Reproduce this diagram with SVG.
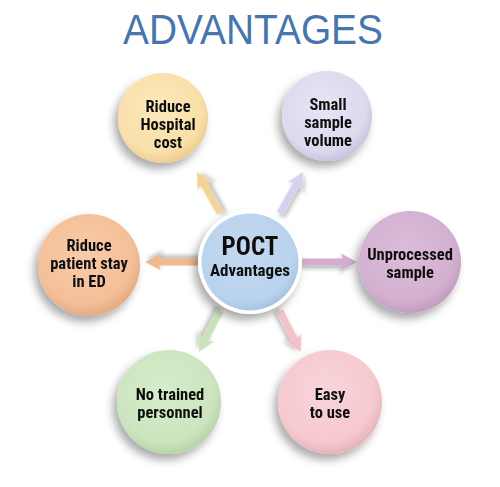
<svg xmlns="http://www.w3.org/2000/svg" width="500" height="487" viewBox="0 0 500 487">
<defs>
<filter id="sh" x="-40%" y="-40%" width="180%" height="180%">
<feDropShadow dx="-4" dy="6" stdDeviation="4.5" flood-color="#000" flood-opacity="0.33"/>
</filter>
<filter id="ash" x="-40%" y="-40%" width="180%" height="180%">
<feDropShadow dx="-2" dy="3" stdDeviation="2" flood-color="#000" flood-opacity="0.28"/>
</filter>
<radialGradient id="gY" cx="45%" cy="40%" r="60%"><stop offset="0" stop-color="#fde9bd"/><stop offset="0.8" stop-color="#f9dfa8"/><stop offset="1" stop-color="#ecce95"/></radialGradient>
<radialGradient id="gL" cx="45%" cy="40%" r="60%"><stop offset="0" stop-color="#e6e5f4"/><stop offset="0.8" stop-color="#dbdaee"/><stop offset="1" stop-color="#c8c6df"/></radialGradient>
<radialGradient id="gM" cx="45%" cy="40%" r="60%"><stop offset="0" stop-color="#dcbcdb"/><stop offset="0.8" stop-color="#d3b0d0"/><stop offset="1" stop-color="#c29dbf"/></radialGradient>
<radialGradient id="gP" cx="45%" cy="40%" r="60%"><stop offset="0" stop-color="#f8cba9"/><stop offset="0.8" stop-color="#f4bf98"/><stop offset="1" stop-color="#e4ab84"/></radialGradient>
<radialGradient id="gG" cx="45%" cy="40%" r="60%"><stop offset="0" stop-color="#d6eccb"/><stop offset="0.8" stop-color="#cce5bf"/><stop offset="1" stop-color="#b8d4aa"/></radialGradient>
<radialGradient id="gK" cx="45%" cy="40%" r="60%"><stop offset="0" stop-color="#f9d5da"/><stop offset="0.8" stop-color="#f5c9cf"/><stop offset="1" stop-color="#e6b5bc"/></radialGradient>
<radialGradient id="gB" cx="45%" cy="40%" r="60%"><stop offset="0" stop-color="#c3d9f0"/><stop offset="0.85" stop-color="#b9d2ed"/><stop offset="1" stop-color="#a9c4e2"/></radialGradient>
</defs>
<style>
.t{font-family:"Roboto Condensed",Roboto,"Liberation Sans",sans-serif;font-weight:bold;font-size:16.5px;fill:#111;text-anchor:middle}
.title{font-family:"Liberation Sans",Arial,sans-serif;font-size:42px;fill:#4676ab;text-anchor:middle}
.node{filter:url(#sh)}
.arrow{filter:url(#ash)}
</style>
<rect width="500" height="487" fill="#ffffff"/>
<text class="title" x="253" y="44" textLength="260" lengthAdjust="spacingAndGlyphs">ADVANTAGES</text>

<g id="connectors">
<path class="arrow" fill="#f3d398" transform="translate(220,213) rotate(-119.3)" d="M0,-3.5 L33,-3.5 L31,-8.5 L47,0 L31,8.5 L33,3.5 L0,3.5 Z"/>
<path class="arrow" fill="#d4d2ec" transform="translate(280,213) rotate(-60.7)" d="M0,-3.5 L33,-3.5 L31,-8.5 L47,0 L31,8.5 L33,3.5 L0,3.5 Z"/>
<path class="arrow" fill="#f2b88e" transform="translate(199,262) rotate(180)" d="M0,-3.5 L40,-3.5 L38,-8.5 L54,0 L38,8.5 L40,3.5 L0,3.5 Z"/>
<path class="arrow" fill="#d3acd0" transform="translate(301,262)" d="M0,-3.5 L42,-3.5 L40,-8.5 L56,0 L40,8.5 L42,3.5 L0,3.5 Z"/>
<path class="arrow" fill="#c8e3ba" transform="translate(220,311) rotate(117.1)" d="M0,-3.5 L32,-3.5 L30,-8.5 L46,0 L30,8.5 L32,3.5 L0,3.5 Z"/>
<path class="arrow" fill="#f3c2c9" transform="translate(280,311) rotate(62.9)" d="M0,-3.5 L32,-3.5 L30,-8.5 L46,0 L30,8.5 L32,3.5 L0,3.5 Z"/>
</g>

<g id="center" class="node">
<circle cx="250" cy="262" r="52" fill="#ffffff"/>
<circle cx="250" cy="262" r="48.5" fill="url(#gB)"/>
<text class="t" x="250" y="255" style="font-size:25px">POCT</text>
<text class="t" x="250" y="276" style="font-size:17px">Advantages</text>
</g>

<g id="n-hospital" class="node">
<circle cx="163" cy="118" r="45" fill="url(#gY)"/>
<text class="t" x="168" y="112">Riduce</text>
<text class="t" x="168" y="130">Hospital</text>
<text class="t" x="168" y="148">cost</text>
</g>

<g id="n-small" class="node">
<circle cx="327" cy="116" r="45" fill="url(#gL)"/>
<text class="t" x="328" y="110">Small</text>
<text class="t" x="328" y="128">sample</text>
<text class="t" x="328" y="146">volume</text>
</g>

<g id="n-unprocessed" class="node">
<circle cx="410" cy="262" r="51" fill="url(#gM)"/>
<text class="t" x="410" y="260">Unprocessed</text>
<text class="t" x="410" y="278">sample</text>
</g>

<g id="n-patient" class="node">
<circle cx="89" cy="265" r="51" fill="url(#gP)"/>
<text class="t" x="89" y="251">Riduce</text>
<text class="t" x="89" y="269">patient stay</text>
<text class="t" x="89" y="287">in ED</text>
</g>

<g id="n-trained" class="node">
<circle cx="169" cy="402" r="52" fill="url(#gG)"/>
<text class="t" x="170" y="400">No trained</text>
<text class="t" x="170" y="418">personnel</text>
</g>

<g id="n-easy" class="node">
<circle cx="330" cy="402" r="52" fill="url(#gK)"/>
<text class="t" x="330" y="400">Easy</text>
<text class="t" x="330" y="418">to use</text>
</g>
</svg>
